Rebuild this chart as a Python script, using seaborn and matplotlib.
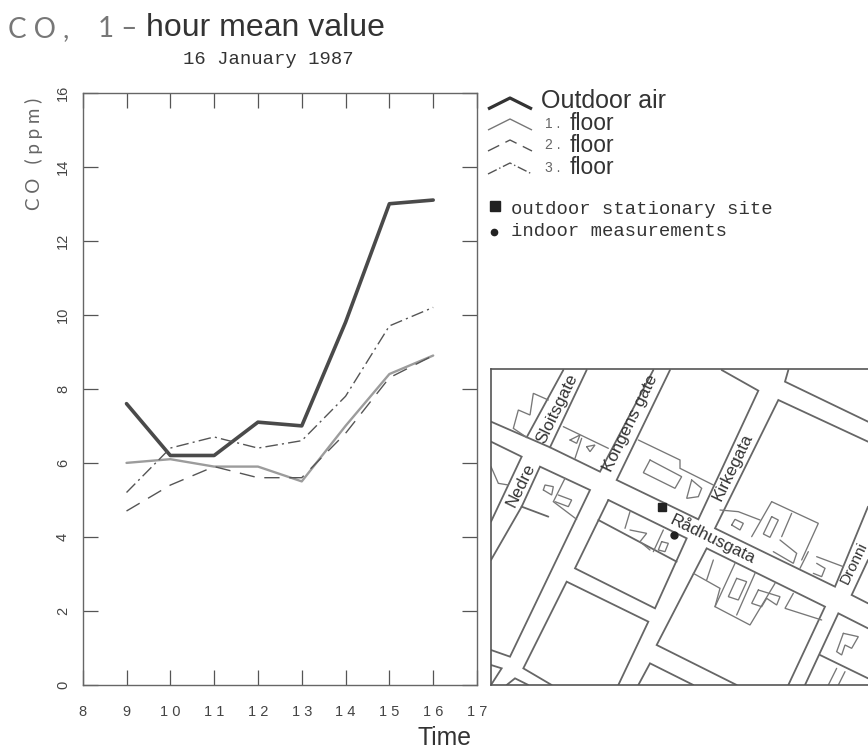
import matplotlib
matplotlib.use('Agg')
import matplotlib.pyplot as plt
import pandas as pd
import seaborn as sns

# chart data
hours = [9, 10, 11, 12, 13, 14, 15, 16]
outdoor = [7.6, 6.2, 6.2, 7.1, 7.0, 9.8, 13.0, 13.1]
floor_1 = [6.0, 6.1, 5.9, 5.9, 5.5, 7.0, 8.4, 8.9]
floor_2 = [4.7, 5.4, 5.9, 5.6, 5.6, 6.8, 8.3, 8.9]
floor_3 = [5.2, 6.4, 6.7, 6.4, 6.6, 7.8, 9.7, 10.2]
x_ticks = list(range(8, 18))
y_ticks = list(range(0, 18, 2))

# street map outlines, traced in reference zoom coordinates
map_heavy = [
    [(320, 30), (210, 262), (360, 335), (520, 30)],
    [(570, 30), (410, 360), (655, 478), (835, 92), (725, 30)],
    [(1164, 245), (895, 120), (705, 505), (1065, 680), (1164, 440)],
    [(925, 30), (915, 65), (1164, 185)],
    [(33, 185), (210, 262)],
    [(33, 245), (125, 290), (33, 485)],
    [(250, 30), (140, 232)],
    [(125, 440), (33, 600)],
    [(125, 440), (180, 320), (330, 390), (90, 890), (33, 870)],
    [(125, 440), (205, 470)],
    [(385, 420), (620, 535), (525, 745), (285, 625), (385, 420)],
    [(355, 480), (590, 605)],
    [(1164, 805), (1075, 760), (975, 975)],
    [(1020, 885), (1164, 955)],
    [(1164, 730), (1115, 705), (1164, 600)],
    [(215, 975), (130, 925), (260, 665), (505, 785), (415, 975)],
    [(925, 975), (1035, 740), (680, 565), (530, 855), (770, 975)],
    [(475, 975), (510, 910), (640, 975)],
    [(33, 915), (65, 925), (33, 975)],
    [(80, 975), (105, 955), (145, 975)],
]
map_thin = [
    [(140, 232), (100, 205), (115, 150), (150, 165), (160, 100), (205, 120)],
    [(33, 320), (55, 370), (85, 375)],
    [(250, 200), (385, 265)],
    [(305, 235), (285, 295)],
    [(270, 240), (300, 225), (290, 250), (270, 240)],
    [(320, 260), (345, 255), (330, 275), (320, 260)],
    [(475, 240), (600, 300), (600, 325), (700, 375)],
    [(510, 300), (605, 350), (585, 385), (490, 338), (510, 300)],
    [(635, 360), (665, 385), (655, 410), (620, 415), (635, 360)],
    [(190, 390), (195, 375), (220, 380), (215, 405), (190, 390)],
    [(255, 355), (220, 425), (290, 478)],
    [(235, 405), (275, 420), (265, 440), (225, 425)],
    [(450, 455), (435, 505)],
    [(550, 510), (520, 575)],
    [(450, 510), (500, 520), (480, 545), (510, 570)],
    [(545, 545), (565, 550), (555, 575), (535, 570), (545, 545)],
    [(720, 450), (775, 455), (840, 480)],
    [(755, 495), (765, 478), (790, 490), (780, 510), (755, 495)],
    [(875, 425), (815, 530)],
    [(875, 425), (1015, 490), (965, 600)],
    [(875, 470), (895, 480), (870, 532), (850, 522), (875, 470)],
    [(935, 460), (905, 530)],
    [(900, 540), (950, 580), (940, 610), (880, 575)],
    [(985, 575), (960, 625)],
    [(1010, 590), (1090, 620)],
    [(1010, 610), (1035, 625), (1025, 650), (1000, 640)],
    [(640, 640), (720, 685), (705, 740), (810, 795), (885, 670)],
    [(700, 600), (680, 660)],
    [(765, 610), (705, 740)],
    [(825, 640), (770, 765)],
    [(770, 655), (800, 665), (775, 720), (745, 710), (770, 655)],
    [(835, 690), (900, 710), (890, 735), (860, 715), (845, 740), (815, 730), (835, 690)],
    [(940, 700), (915, 745), (1025, 780)],
    [(1090, 820), (1135, 830), (1115, 865), (1095, 855), (1085, 885), (1070, 875), (1090, 820)],
    [(1070, 925), (1045, 975)],
    [(1095, 935), (1075, 975)],
]

df = pd.DataFrame({
    'Time': hours * 4,
    'CO': outdoor + floor_1 + floor_2 + floor_3,
    'series': ['Outdoor air'] * 8 + ['1. floor'] * 8 + ['2. floor'] * 8 + ['3. floor'] * 8,
})

W, H = 868, 751
sns.set_style('white')
plt.rcParams['font.family'] = ['Liberation Sans', 'DejaVu Sans']

fig = plt.figure(figsize=(W / 100, H / 100), dpi=100)


def px_axes(left, top, right, bottom):
    return fig.add_axes([left / W, 1 - bottom / H, (right - left) / W, (bottom - top) / H])


ax = px_axes(82.7, 92.7, 477, 685)
sns.lineplot(
    data=df, x='Time', y='CO', hue='series', style='series', size='series',
    palette={'Outdoor air': '#4a4a4a', '1. floor': '#9c9c9c', '2. floor': '#555555', '3. floor': '#555555'},
    dashes={'Outdoor air': '', '1. floor': '', '2. floor': (11, 7), '3. floor': (9, 3, 1.5, 3)},
    sizes={'Outdoor air': 2.6, '1. floor': 1.7, '2. floor': 1.0, '3. floor': 1.0},
    legend=False, ax=ax,
)
ax.set_xlim(8, 17)
ax.set_ylim(0, 16)
ax.set_xticks(x_ticks)
ax.set_yticks(y_ticks)
ax.set_xticklabels([])
ax.set_yticklabels([])
ax.set_xlabel('')
ax.set_ylabel('')
ax.tick_params(axis='both', which='both', direction='in', length=11, width=0.9, color='#555555',
               top=True, bottom=True, left=True, right=True)
for spine in ax.spines.values():
    spine.set_linewidth(1.0)
    spine.set_color('#666666')

# tick labels: thin and letter-spaced, as in the typed original
tick_font = dict(family='Liberation Sans', fontsize=10.5, color='#444444')
for t in x_ticks:
    ax.text(t, -0.0345, ' '.join(str(t)), transform=ax.get_xaxis_transform(), ha='center', va='top', **tick_font)
for t in y_ticks:
    ax.text(-0.05, t, str(t), transform=ax.get_yaxis_transform(),
            ha='center', va='center', rotation=90, **tick_font)

# overlay in pixel coordinates for title, key and labels
ov = px_axes(0, 0, W, H)
ov.set_xlim(0, W)
ov.set_ylim(H, 0)
ov.axis('off')
ov.patch.set_alpha(0)

thin = dict(family='Lato', color='#777777', va='center', ha='left')
ov.text(8, 29, 'C O ,', fontsize=20, **thin)
ov.text(98, 29, '1 –', fontsize=20, **thin)
ov.text(146, 28, 'hour mean value', fontsize=23, va='center', ha='left', color='#333333')
ov.text(268, 59, '16 January 1987', fontsize=13.6, va='center', ha='center', color='#333333',
        family='Liberation Mono')
ov.text(34, 154, 'C O   ( p p m )', fontsize=13.5, va='center', ha='center', rotation=90, color='#666666',
        family='Lato')
ov.text(445, 738, 'Time', fontsize=17.8, va='center', ha='center', color='#333333')

# key
key_rows = [
    (106, 'Outdoor air', None, '#333333', 2.3, '-'),
    (127, 'floor', '1 .', '#777777', 1.0, '-'),
    (148, 'floor', '2 .', '#555555', 1.0, (0, (9, 5))),
    (171, 'floor', '3 .', '#555555', 1.0, (0, (7, 2, 1, 2))),
]
for y, label, num, col, lw, ls in key_rows:
    ov.plot([488, 510, 532], [y + 3, y - 8, y + 3], color=col, lw=lw, ls=ls, solid_capstyle='butt')
    if num is None:
        ov.text(541, y - 5, label, fontsize=18, va='center', color='#333333')
    else:
        ov.text(545, y - 3, num, fontsize=10, va='center', color='#666666')
        ov.text(570, y - 3, label, fontsize=16.5, va='center', color='#333333')
mono = dict(family='Liberation Mono', fontsize=13.6, va='center', color='#333333')
ov.plot([495], [206], marker='s', ms=7, color='#222222')
ov.text(511, 210, 'outdoor stationary site', **mono)
ov.plot([494], [232], marker='o', ms=4.5, color='#222222')
ov.text(511, 231, 'indoor measurements', **mono)

# street map inset, same orientation as the zoom crop
mp = px_axes(491, 369, W, 685)
mp.set_xlim(33, 1164)
mp.set_ylim(975, 27)
mp.set_xticks([])
mp.set_yticks([])
for side in ['top', 'left', 'bottom']:
    mp.spines[side].set_linewidth(1.2)
    mp.spines[side].set_color('#555555')
mp.spines['right'].set_visible(False)
for path in map_heavy:
    xs, ys = zip(*path)
    mp.plot(xs, ys, color='#666666', lw=1.3, solid_joinstyle='miter')
for path in map_thin:
    xs, ys = zip(*path)
    mp.plot(xs, ys, color='#777777', lw=0.95, solid_joinstyle='miter')
streets = [
    ('Sloitsgate', 232, 145, 64, 12.3),
    ('Kongens gate', 452, 190, 64, 12.3),
    ('Kirkegata', 758, 320, 64, 12.3),
    ('Nedre', 122, 375, 64, 12.3),
    ('Rådhusgata', 700, 537, -26, 12.3),
    ('Dronni', 1122, 610, 64, 11),
]
for name, x, y, rot, size in streets:
    mp.text(x, y, name, fontsize=size, color='#333333', rotation=rot, rotation_mode='anchor',
            ha='center', va='center')
mp.plot([545], [442], marker='s', ms=6, color='#222222')
mp.plot([581], [526], marker='o', ms=5, color='#222222')

fig.savefig('out.png', dpi=100)
